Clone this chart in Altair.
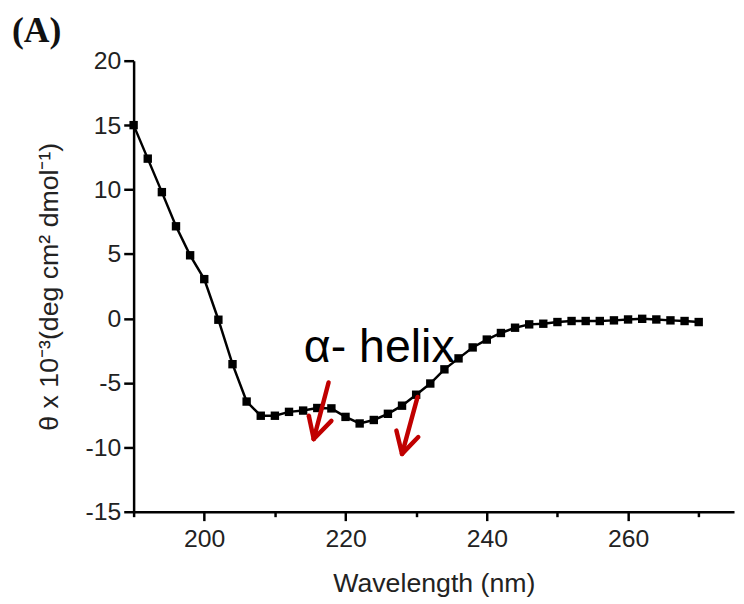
import altair as alt
import pandas as pd

# ---- data ----
wavelength = list(range(190, 272, 2))
theta = [15.0, 12.4, 9.8, 7.15, 4.9, 3.05, -0.1, -3.55, -6.45, -7.55,
         -7.55, -7.25, -7.15, -6.95, -6.98, -7.64, -8.15, -7.88, -7.4, -6.77,
         -5.92, -5.05, -3.95, -3.1, -2.25, -1.64, -1.13, -0.72, -0.46, -0.41,
         -0.28, -0.2, -0.2, -0.2, -0.15, -0.08, -0.03, -0.08, -0.15, -0.2, -0.28]

# arrow segments (shaft, two head arms) in data units
seg_x1 = [217.6, 215.5, 215.5, 230.2, 228.0, 228.0]
seg_y1 = [-4.97, -9.36, -9.36, -6.09, -10.51, -10.51]
seg_x2 = [215.5, 214.8, 218.0, 228.0, 227.2, 230.3]
seg_y2 = [-9.36, -7.55, -7.95, -10.51, -8.7, -9.2]

label_text = ["α- helix"]
label_x = [214.1]
label_y = [-3.38]

x_ticks = list(range(190, 280, 10))
y_ticks = [-15 + 2.5 * i for i in range(15)]

df = pd.DataFrame({"wavelength": wavelength, "theta": theta})
arrows = pd.DataFrame({"x1": seg_x1, "y1": seg_y1, "x2": seg_x2, "y2": seg_y2})
labels = pd.DataFrame({"text": label_text, "x": label_x, "y": label_y})

FONT = "Liberation Sans"

x_scale = alt.Scale(domain=[190, 275], nice=False, zero=False)
y_scale = alt.Scale(domain=[-15, 20], nice=False, zero=False)

x_axis = alt.Axis(
    values=x_ticks,
    labelExpr="datum.value % 20 === 0 ? toString(datum.value) : ''",
    tickSize={"condition": {"test": "datum.value % 20 === 0", "value": 9}, "value": 5},
    grid=False, domainColor="black", domainWidth=2.5, tickColor="black", tickWidth=2.5,
    labelFont=FONT, labelFontSize=25, labelColor="#222", labelPadding=6,
    titleFont=FONT, titleFontSize=27, titleFontWeight="normal", titleColor="#222",
    titlePadding=20,
)
y_axis = alt.Axis(
    values=y_ticks,
    labelExpr="datum.value % 5 === 0 ? toString(datum.value) : ''",
    tickSize={"condition": {"test": "datum.value % 5 === 0", "value": 10}, "value": 5},
    grid=False, domainColor="black", domainWidth=2.5, tickColor="black", tickWidth=2.5,
    labelFont=FONT, labelFontSize=25, labelColor="#222", labelPadding=3,
    titleFont=FONT, titleFontSize=27, titleFontWeight="normal", titleColor="#222",
    titlePadding=22,
)

x_enc = alt.X("wavelength:Q", scale=x_scale, axis=x_axis, title="Wavelength (nm)")
y_enc = alt.Y("theta:Q", scale=y_scale, axis=y_axis,
              title="θ x 10⁻³(deg cm² dmol⁻¹)")

line = alt.Chart(df).mark_line(color="black", strokeWidth=2.5).encode(x=x_enc, y=y_enc)
pts = alt.Chart(df).mark_point(shape="square", filled=True, size=72, color="black",
                               opacity=1).encode(x=x_enc, y=y_enc)

arrow = alt.Chart(arrows).mark_rule(color="#c00000", strokeWidth=4.5, strokeCap="round").encode(
    x=alt.X("x1:Q", scale=x_scale), y=alt.Y("y1:Q", scale=y_scale),
    x2="x2:Q", y2="y2:Q")

txt = alt.Chart(labels).mark_text(align="left", baseline="alphabetic", font=FONT,
                                  fontSize=47, color="black").encode(
    x=alt.X("x:Q", scale=x_scale), y=alt.Y("y:Q", scale=y_scale), text="text:N")

chart = alt.layer(line, pts, arrow, txt).properties(
    width=607, height=456,
    autosize=alt.AutoSizeParams(type="none"),
    padding={"left": 127, "top": 50, "right": 2, "bottom": 90},
    title=alt.TitleParams("(A)", anchor="start", frame="group", dx=-123, dy=7, offset=6,
                          font="Liberation Serif", fontSize=36, fontWeight="bold",
                          color="#111"),
).configure_view(stroke="transparent")

chart.save("out.html", embed_options={"renderer": "svg", "actions": False})
